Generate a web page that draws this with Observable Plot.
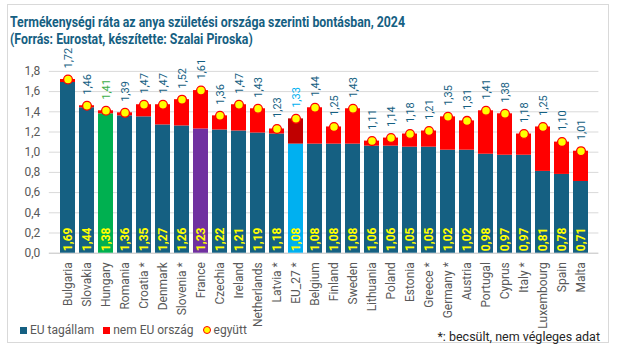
<!DOCTYPE html>
<html>
<head>
<meta charset="utf-8">
<script src="https://cdn.jsdelivr.net/npm/d3@7"></script>
<script src="https://cdn.jsdelivr.net/npm/@observablehq/plot@0.6"></script>
<style>
  body { margin: 0; background: #fff; font-family: Roboto, "Noto Sans", sans-serif; }
  #wrap { position: relative; width: 617px; height: 348px; overflow: hidden; background: #fff; }
  #frame { position: absolute; left: 7px; top: 4px; width: 602px; height: 339px; border: 1px solid #d9d9d9; box-sizing: border-box; }
  .title { position: absolute; left: 10px; font-weight: 700; font-size: 15.5px; color: #156082; white-space: nowrap; transform-origin: 0 0; }
  #chart { position: absolute; left: 0; top: 48px; }
  .legend { position: absolute; top: 323px; left: 20px; font-size: 12px; color: #595959; display: flex; align-items: center; white-space: nowrap; }
  .legend .sw { display: inline-block; width: 7px; height: 7px; margin-right: 3px; }
  .legend .item { display: flex; align-items: center; margin-right: 9px; }
  .legend .dot { display: inline-block; width: 6px; height: 6px; border-radius: 50%; background: #FFFF00; border: 1.3px solid #FF0000; margin-right: 3px; }
  #note { position: absolute; right: 17px; top: 329px; font-size: 12.5px; color: #262626; white-space: nowrap; }
</style>
</head>
<body>
<div id="wrap">
  <div id="frame"></div>
  <div class="title" id="t1" style="top:13px">Termékenységi ráta az anya születési országa szerinti bontásban, 2024</div>
  <div class="title" id="t2" style="top:30px">(Forrás: Eurostat, készítette: Szalai Piroska)</div>
  <div id="chart"></div>
  <div class="legend">
    <span class="item"><span class="sw" style="background:#156082"></span>EU tagállam</span>
    <span class="item"><span class="sw" style="background:#FF0000"></span>nem EU ország</span>
    <span class="item"><span class="dot"></span>együtt</span>
  </div>
  <div id="note">*: becsült, nem végleges adat</div>
</div>
<script>
const countries = ["Bulgaria","Slovakia","Hungary","Romania","Croatia *","Denmark","Slovenia *","France","Czechia","Ireland","Netherlands","Latvia *","EU_27 *","Belgium","Finland","Sweden","Lithuania","Poland","Estonia","Greece *","Germany *","Austria","Portugal","Cyprus","Italy *","Luxembourg","Spain","Malta"];
const euValues = [1.69,1.44,1.38,1.36,1.35,1.27,1.26,1.23,1.22,1.21,1.19,1.18,1.08,1.08,1.08,1.08,1.06,1.06,1.05,1.05,1.02,1.02,0.98,0.97,0.97,0.81,0.78,0.71];
const totalValues = [1.72,1.46,1.41,1.39,1.47,1.47,1.52,1.61,1.36,1.47,1.43,1.23,1.33,1.44,1.25,1.43,1.11,1.14,1.18,1.21,1.35,1.31,1.41,1.38,1.18,1.25,1.10,1.01];
const yTicks = [0,0.2,0.4,0.6,0.8,1.0,1.2,1.4,1.6,1.8];

const data = countries.map((c, i) => ({country: c, eu: euValues[i], total: totalValues[i]}));

const baseColor = d => d.country === "Hungary" ? "#00B050" : d.country === "France" ? "#7030A0" : d.country === "EU_27 *" ? "#00B0F0" : "#156082";
const topColor = d => d.country === "EU_27 *" ? "#C00000" : "#FF0000";
const labelColor = d => d.country === "Hungary" ? "#3DAE4A" : d.country === "EU_27 *" ? "#00B0F0" : "#156082";
const fmt = v => v.toFixed(2).replace(".", ",");

const chart = Plot.plot({
  width: 617,
  height: 280,
  marginTop: 22.9,
  marginBottom: 75.3,
  marginLeft: 48.8,
  marginRight: 18.6,
  style: {fontFamily: "Roboto, sans-serif", background: "transparent"},
  x: {domain: countries, padding: 0.23, label: null},
  y: {domain: [0, 1.8], label: null},
  marks: [
    Plot.ruleY(yTicks.slice(1), {stroke: "#d9d9d9", strokeWidth: 1}),
    Plot.ruleY([0], {stroke: "#bfbfbf", strokeWidth: 1}),
    Plot.barY(data, {x: "country", y1: 0, y2: "eu", fill: baseColor}),
    Plot.barY(data, {x: "country", y1: "eu", y2: "total", fill: topColor}),
    Plot.dot(data, {x: "country", y: "total", r: 4.4, fill: "#FFFF00", stroke: "#FF0000", strokeWidth: 1.3}),
    Plot.text(data, {x: "country", y: "total", text: d => fmt(d.total), rotate: -90, textAnchor: "start", lineAnchor: "middle", dy: -11, fontSize: 11, fill: labelColor}),
    Plot.text(data, {x: "country", y: 0, text: d => fmt(d.eu), rotate: -90, textAnchor: "start", lineAnchor: "middle", dy: -2, fontSize: 12, fontWeight: "bold", fill: "#FFFF00"}),
    Plot.axisX({tickRotate: -90, tickSize: 0, tickPadding: 9, fontSize: 12, color: "#595959", label: null}),
    Plot.axisY({ticks: yTicks, tickFormat: d => d.toFixed(1).replace(".", ","), tickSize: 0, tickPadding: 9, fontSize: 12, color: "#595959", label: null})
  ]
});
document.getElementById("chart").appendChild(chart);

// condense title to match the narrow title font of the original
const t1 = document.getElementById("t1"), t2 = document.getElementById("t2");
const s = 395 / t1.getBoundingClientRect().width;
t1.style.transform = `scaleX(${s})`;
t2.style.transform = `scaleX(${s})`;
</script>
</body>
</html>
